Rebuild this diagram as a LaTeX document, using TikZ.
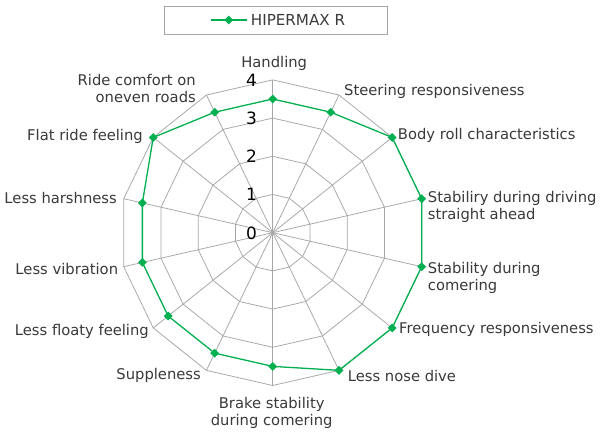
\documentclass[tikz,border=0pt]{standalone}
\usepackage{fontspec}
\setmainfont{DejaVu Sans}
\usetikzlibrary{shapes.geometric}
\definecolor{sergreen}{HTML}{00B050}
\definecolor{gridgray}{HTML}{A6A6A6}
\definecolor{txt}{HTML}{3A3A3A}
\tikzset{
  lbl/.style={inner sep=0pt, text=txt, font=\fontsize{14.8}{17.6}\selectfont},
  num/.style={inner sep=0pt, text=black, font=\fontsize{17}{20}\selectfont},
  mk/.style={diamond, fill=sergreen, inner sep=0pt, minimum size=9bp},
  gridline/.style={draw=gridgray, line width=0.75bp},
  series/.style={draw=sergreen, line width=1.3bp},
}
\begin{document}
\begin{tikzpicture}[x=1bp,y=1bp]
\useasboundingbox (0,0) rectangle (600,436);
\fill[white] (0,0) rectangle (600,436);
\def\U{38.2}
\begin{scope}[shift={(272.7,203.3)}]
  \coordinate (C) at (0,0);
  % rings
  \foreach \r in {1,...,4} {
    \draw[gridline] (90:{\r*\U}) \foreach \i in {1,...,13} { -- ({90-\i*360/14}:{\r*\U}) } -- cycle;
  }
  % spokes
  \foreach \i in {0,...,13} {
    \coordinate (s\i) at ({90-\i*360/14}:{4*\U});
    \draw[gridline] (C) -- (s\i);
  }
  % series points
  \foreach \v [count=\i from 0] in {3.5,3.5,4,4,4,4,4,3.5,3.5,3.5,3.5,3.5,4,3.5} {
    \coordinate (p\i) at ({90-\i*360/14}:{\v*\U});
  }
  \draw[series, line join=round] (p0) -- (p1) -- (p2) -- (p3) -- (p4) -- (p5) -- (p6) -- (p7)
     -- (p8) -- (p9) -- (p10) -- (p11) -- (p12) -- (p13) -- cycle;
  \foreach \i in {0,...,13} { \node[mk] (m\i) at (p\i) {}; }
\end{scope}
% scale numbers
\node[num, anchor=east] (n4) at (257,356) {4};
\node[num, anchor=east] (n3) at (257,317.7) {3};
\node[num, anchor=east] (n2) at (257,279.5) {2};
\node[num, anchor=east] (n1) at (257,241.3) {1};
\node[num, anchor=east] (n0) at (257,203.1) {0};
% axis labels
\node[lbl] (L0) at (274.2,372.7) {Handling};
\node[lbl, anchor=west] (L1) at (344,344.3) {Steering responsiveness};
\node[lbl, anchor=west] (L2) at (397.7,301) {Body roll characteristics};
\node[lbl, anchor=west, align=left] (L3) at (427.7,229) {Stabiliry during driving\\straight ahead};
\node[lbl, anchor=west, align=left] (L4) at (427.7,158) {Stability during\\comering};
\node[lbl, anchor=west] (L5) at (399,106.7) {Frequency responsiveness};
\node[lbl, anchor=west] (L6) at (347.7,60.3) {Less nose dive};
\node[lbl, align=center] (L7) at (271.7,23.2) {Brake stability\\during comering};
\node[lbl, anchor=east] (L8) at (201,60.3) {Suppleness};
\node[lbl, anchor=east] (L9) at (149,104.3) {Less floaty feeling};
\node[lbl, anchor=east] (L10) at (118.3,167) {Less vibration};
\node[lbl, anchor=east] (L11) at (117,238) {Less harshness};
\node[lbl, anchor=east] (L12) at (143,300) {Flat ride feeling};
\node[lbl, anchor=east, align=right] (L13) at (196,347.5) {Ride comfort on\\oneven roads};
% legend
\draw[draw=gridgray, line width=0.75bp] (164,402) rectangle (387.3,430);
\coordinate (la) at (210.7,416);
\coordinate (lb) at (247,416);
\draw[series] (la) -- (lb);
\node[mk] (lm) at (228.8,416) {};
\node[lbl, anchor=west, font=\fontsize{15.2}{18}\selectfont] (lt) at (250.7,416) {HIPERMAX R};
\end{tikzpicture}
\end{document}
